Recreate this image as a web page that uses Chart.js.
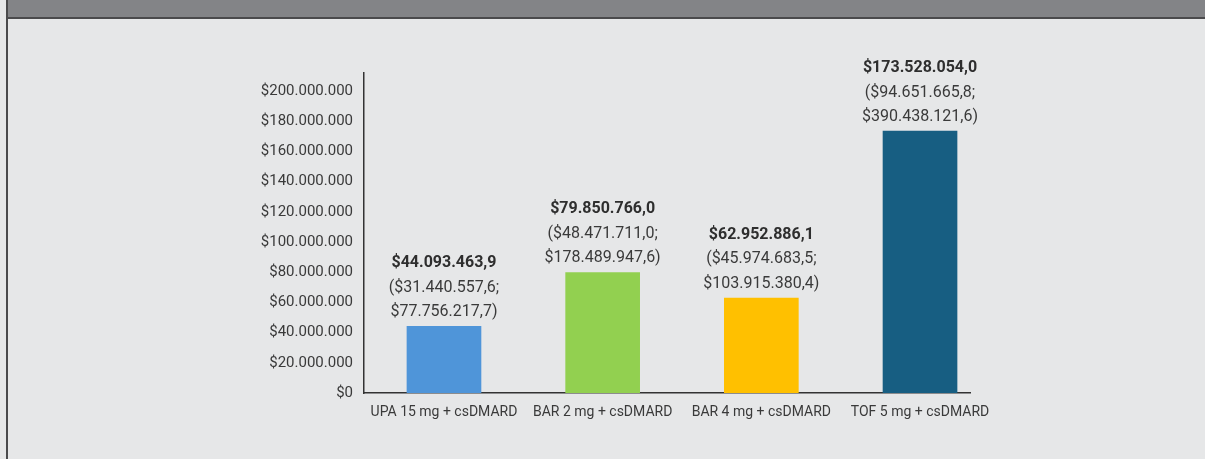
<!DOCTYPE html>
<html>
<head>
<meta charset="utf-8">
<script src="https://cdn.jsdelivr.net/npm/chart.js@4/dist/chart.umd.min.js"></script>
<style>
  html, body { margin: 0; padding: 0; background: #e6e7e8; }
  #page { position: relative; width: 1205px; height: 459px; overflow: hidden; background: #e6e7e8; }
  #frame { position: absolute; left: 6px; top: 0; width: 1199px; height: 459px; border-left: 2px solid #4a4a4c; box-sizing: border-box; }
  #header { position: absolute; left: 0; top: 0; right: 0; height: 17px; background: #838487; border-bottom: 2px solid #4a4a4c; }
  #wrap { position: absolute; left: 0; top: 0; width: 1205px; height: 459px; }
</style>
</head>
<body>
<div id="page">
  <div id="frame"><div id="header"></div></div>
  <div id="wrap"><canvas id="c" width="1205" height="459"></canvas></div>
</div>
<script>
const categories = ["UPA 15 mg + csDMARD", "BAR 2 mg + csDMARD", "BAR 4 mg + csDMARD", "TOF 5 mg + csDMARD"];
const meanCost = [44093463.9, 79850766.0, 62952886.1, 173528054.0];
const lowCost = [31440557.6, 48471711.0, 45974683.5, 94651665.8];
const highCost = [77756217.7, 178489947.6, 103915380.4, 390438121.6];
const barColors = ["#4f95d9", "#92d050", "#ffc000", "#175e82"];
const yTicks = [0, 20000000, 40000000, 60000000, 80000000, 100000000, 120000000, 140000000, 160000000, 180000000, 200000000];

function fmt(v, dec) {
  const parts = v.toFixed(dec).split('.');
  const intPart = parts[0].replace(/\B(?=(\d{3})+(?!\d))/g, '.');
  return dec ? intPart + ',' + parts[1] : intPart;
}

const FONT = "Roboto, 'Liberation Sans', sans-serif";
const TEXT = "#3a3a3a";

const labelPlugin = {
  id: 'barLabels',
  afterDatasetsDraw(chart) {
    const ctx = chart.ctx;
    const meta = chart.getDatasetMeta(0);
    ctx.save();
    ctx.textAlign = 'center';
    ctx.textBaseline = 'middle';
    meta.data.forEach((bar, i) => {
      const x = bar.x;
      const base = bar.y - 14;
      const gap = 24.5;
      ctx.fillStyle = "#2e2e2e";
      ctx.font = "bold 16px " + FONT;
      ctx.fillText('$' + fmt(meanCost[i], 1), x, base - 2 * gap);
      ctx.fillStyle = TEXT;
      ctx.font = "16px " + FONT;
      ctx.fillText('($' + fmt(lowCost[i], 1) + ';', x, base - gap);
      ctx.fillText('$' + fmt(highCost[i], 1) + ')', x, base);
    });
    ctx.restore();
  }
};

new Chart(document.getElementById('c'), {
  type: 'bar',
  data: {
    datasets: [{
      data: categories.map((c, i) => ({ x: i, y: meanCost[i] })),
      backgroundColor: barColors,
      borderWidth: 0,
      barThickness: 74
    }]
  },
  options: {
    responsive: false,
    animation: false,
    devicePixelRatio: 1,
    layout: { padding: { top: 73, right: 235, bottom: 0, left: 0 } },
    plugins: { legend: { display: false }, tooltip: { enabled: false } },
    scales: {
      x: {
        type: 'linear',
        min: -0.504,
        max: 3.315,
        offset: false,
        grid: { display: false, drawTicks: false, offset: false },
        border: { display: true, color: '#333333', width: 1.5 },
        afterBuildTicks: (scale) => { scale.ticks = categories.map((c, i) => ({ value: i })); },
        afterFit: (scale) => { scale.height = 66; },
        ticks: {
          padding: 11,
          autoSkip: false,
          maxRotation: 0,
          color: TEXT,
          font: { family: FONT, size: 14 },
          callback: (v) => categories[v]
        }
      },
      y: {
        min: 0,
        max: 212000000,
        grid: { display: false, drawTicks: false },
        border: { display: true, color: '#333333', width: 1.5 },
        afterBuildTicks: (scale) => { scale.ticks = yTicks.map(v => ({ value: v })); },
        afterFit: (scale) => { scale.width = 364; },
        ticks: {
          padding: 11,
          color: TEXT,
          font: { family: FONT, size: 15 },
          callback: (v) => '$' + fmt(v, 0)
        }
      }
    }
  },
  plugins: [labelPlugin]
});
</script>
</body>
</html>
